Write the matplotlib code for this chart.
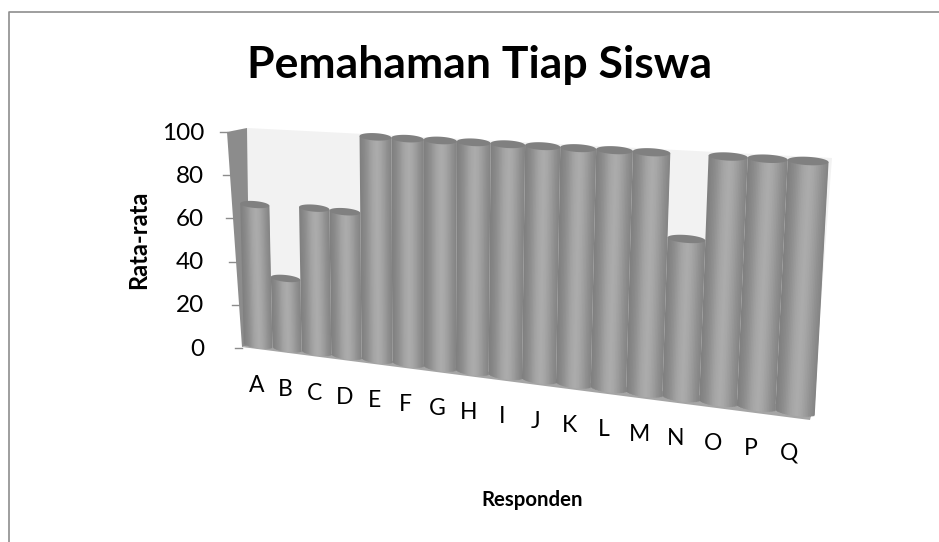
import numpy as np
from matplotlib import pyplot as plt
from matplotlib.transforms import Transform

plt.rcParams['font.family'] = ['Lato', 'DejaVu Sans']

# Values
categories = ['A', 'B', 'C', 'D', 'E', 'F', 'G', 'H', 'I', 'J', 'K', 'L', 'M', 'N', 'O', 'P', 'Q']
rata_rata = [66, 33, 66.5, 66, 100, 100, 100, 100, 100, 100, 100, 100, 100, 66, 100, 100, 100]
y_ticks = [0, 20, 40, 60, 80, 100]


# perspective of the 3D plot: (bar index, value) -> picture pixels
class Perspective(Transform):
    input_dims = 2
    output_dims = 2

    def __init__(self, src, dst):
        super().__init__()
        rows, rhs = [], []
        for (x, y), (u, v) in zip(src, dst):
            rows.append([x, y, 1, 0, 0, 0, -u*x, -u*y])
            rows.append([0, 0, 0, x, y, 1, -v*x, -v*y])
            rhs += [u, v]
        self.h = np.append(np.linalg.solve(np.array(rows, float), np.array(rhs, float)), 1).reshape(3, 3)

    def transform_non_affine(self, values):
        pts = np.column_stack([values, np.ones(len(values))]) @ self.h.T
        return pts[:, :2] / pts[:, 2:]


fig = plt.figure(figsize=(9.39, 5.42), dpi=100)
ax = fig.add_axes([0, 0, 1, 1])
ax.set_xlim(0, 939)
ax.set_ylim(542, 0)
ax.axis('off')

persp = Perspective([(0, 0), (16, 0), (16, 100), (0, 100)],
                    [(258, 345), (795, 412), (808, 161), (253, 130)])
tf = persp + ax.transData

# chart frame, cut off by the picture edge
ax.plot([9, 9, 939], [542, 11.5, 11.5], color='#8e8e8e', lw=1.2)

# walls and floor
ax.fill([247, 832, 813, 250], [128, 158, 410, 345], color='#f2f2f2', lw=0)
ax.fill([227, 247, 250, 242], [132, 128, 345, 347], color='#8c8c8c', lw=0)
ax.fill([242, 250, 813, 810], [347, 345, 408, 420], color='#a5a5a5', lw=0)

# value axis along the front edge of the side wall
for t in y_ticks:
    tx = 242 - 0.15*t
    ty = 348 - 2.16*t
    ax.plot([tx - 7, tx], [ty, ty], color='#8c8c8c', lw=1)
    ax.text(204, ty + 1, str(t), ha='right', va='center', fontsize=17.5, color='black')

# cylinders, as thin vertical strips with a shade across them
n_strip = 24
bar_w = 1.0
edges = np.linspace(-bar_w/2, bar_w/2, n_strip + 1)
mids = (edges[:-1] + edges[1:]) / 2
strip_w = edges[1] - edges[0]
u = mids / (bar_w/2)
shade = 0.48 + 0.19*np.exp(-((u - 0.08)/0.72)**2)
curve = 1.6*np.sqrt(1 - u**2)

for i, v in enumerate(rata_rata):
    # each strip runs on under the next one so no seams show
    for k, (m, s, c) in enumerate(zip(mids, shade, curve)):
        w = strip_w*1.7 if k < n_strip - 1 else strip_w
        ax.bar(i + m - strip_w/2, v + c, width=w, bottom=-c, align='edge', color=str(s), lw=0, transform=tf)
    t = np.linspace(0, 2*np.pi, 60)
    ax.fill(i + bar_w/2*np.cos(t), v + 1.6*np.sin(t), color='#808080', lw=0, transform=tf)

# category labels sit below the floor line
for i, name in enumerate(categories):
    ax.annotate(name, xy=(i, 0), xycoords=tf, xytext=(-1 - 0.3*i, -41), textcoords='offset pixels',
                ha='center', va='center', fontsize=16.5, color='black')

ax.text(480, 65, 'Pemahaman Tiap Siswa', ha='center', va='center', fontsize=32, fontweight='bold')
ax.text(139, 240, 'Rata-rata', ha='center', va='center', rotation=90, fontsize=17, fontweight='bold')
ax.text(532, 500, 'Responden', ha='center', va='center', fontsize=14.7, fontweight='bold')

plt.savefig('out.png', dpi=100)
